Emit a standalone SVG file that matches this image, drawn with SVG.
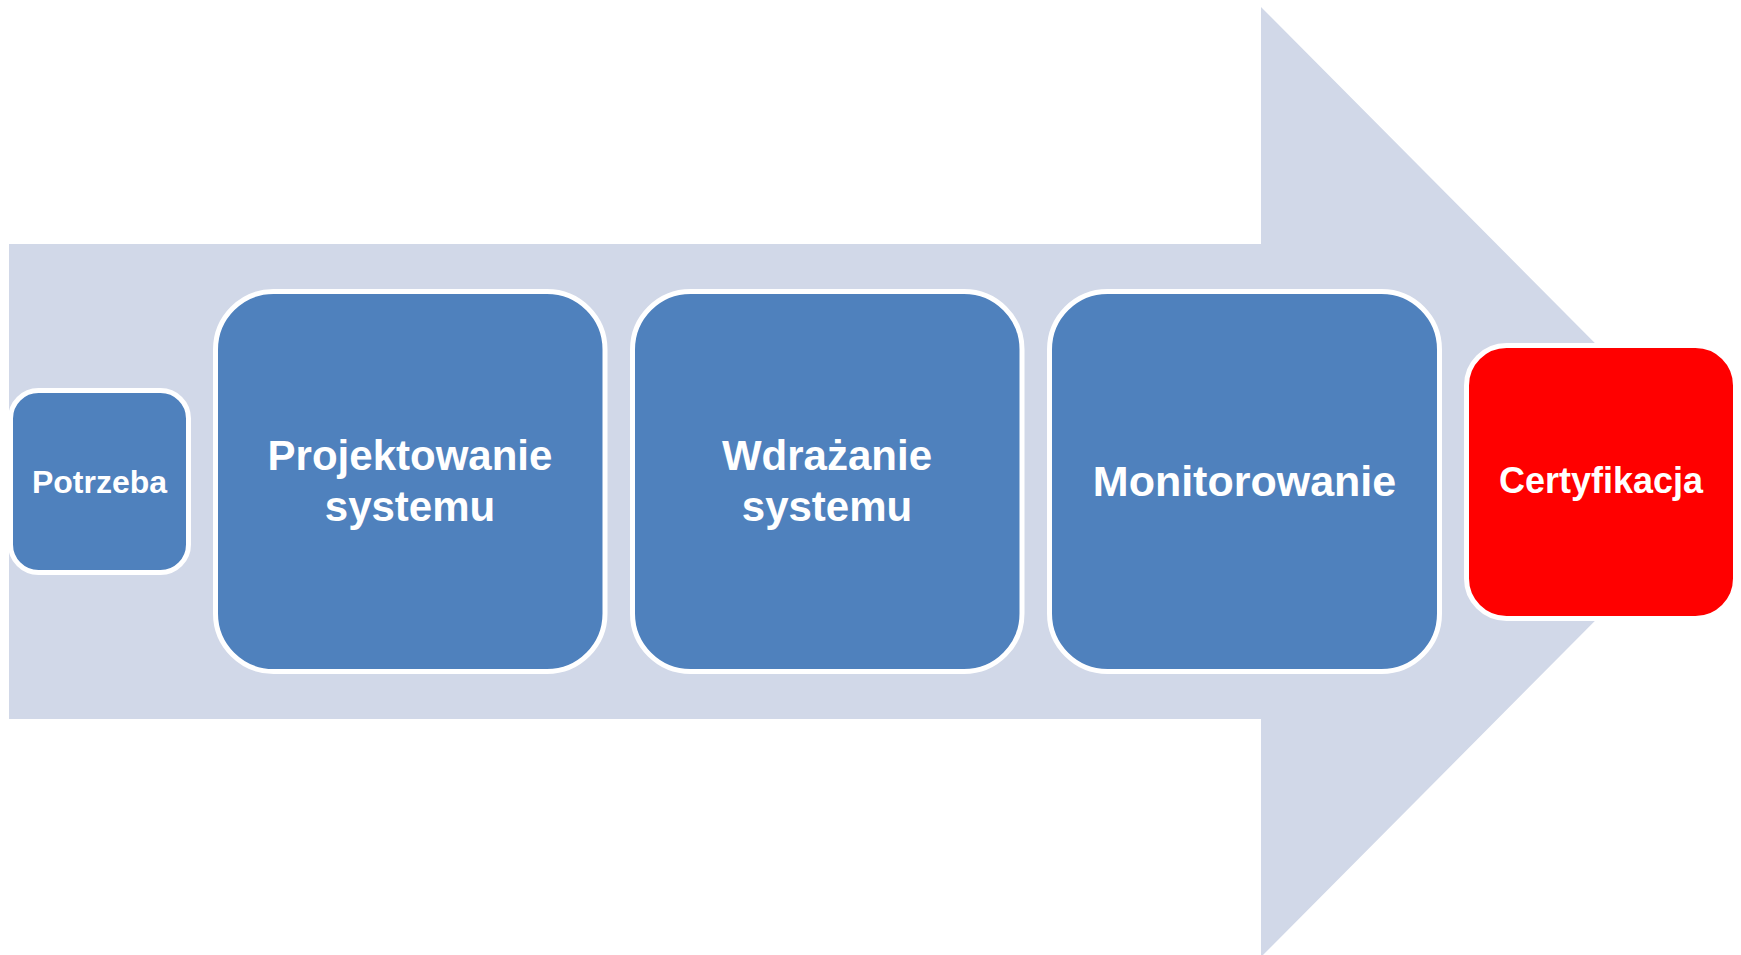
<svg xmlns="http://www.w3.org/2000/svg" width="1741" height="955" viewBox="0 0 1741 955">
<style>
.box{stroke:#FFFFFF;stroke-width:5}
.blue{fill:#4F81BD}
.red{fill:#FF0000}
.lbl{font-family:"Liberation Sans",Arial,sans-serif;font-weight:bold;fill:#FFFFFF;text-anchor:middle}
</style>
<rect x="0" y="0" width="1741" height="955" fill="#FFFFFF"/>
<g id="connectors">
<polygon points="9,244 1261,244 1261,7 1733,482 1261,957 1261,719 9,719" fill="#D1D8E8"/>
</g>
<g id="node-potrzeba">
<rect class="box blue" x="10.5" y="390.5" width="178" height="182" rx="28" ry="28"/>
<text class="lbl" x="99.5" y="493" font-size="32">Potrzeba</text>
</g>
<g id="node-projektowanie">
<rect class="box blue" x="215.5" y="291.5" width="389.5" height="380" rx="58" ry="58"/>
<text class="lbl" x="410" y="470" font-size="42">Projektowanie</text>
<text class="lbl" x="410" y="521" font-size="42">systemu</text>
</g>
<g id="node-wdrazanie">
<rect class="box blue" x="632.5" y="291.5" width="389.5" height="380" rx="58" ry="58"/>
<text class="lbl" x="827" y="470" font-size="42">Wdrażanie</text>
<text class="lbl" x="827" y="521" font-size="42">systemu</text>
</g>
<g id="node-monitorowanie">
<rect class="box blue" x="1049.5" y="291.5" width="390" height="380" rx="58" ry="58"/>
<text class="lbl" x="1244.5" y="496" font-size="43">Monitorowanie</text>
</g>
<g id="node-certyfikacja">
<rect class="box red" x="1466.5" y="345.5" width="269" height="273" rx="40" ry="40"/>
<text class="lbl" x="1601" y="493" font-size="36">Certyfikacja</text>
</g>
</svg>
